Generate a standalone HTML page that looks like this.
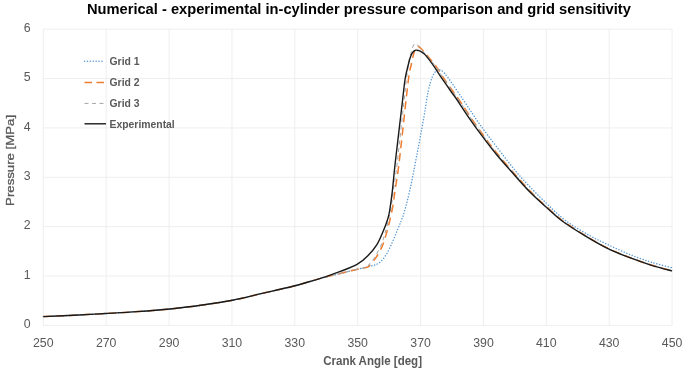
<!DOCTYPE html>
<html><head><meta charset="utf-8"><title>Chart</title>
<style>
html,body{margin:0;padding:0;background:#fff;}
svg{display:block;font-family:"Liberation Sans",sans-serif;}
</style></head><body>
<svg width="685" height="371" viewBox="0 0 685 371">
<rect width="685" height="371" fill="#fff"/>
<g stroke="#ececec" stroke-width="0.9" fill="none"><line x1="43.30" y1="29.2" x2="43.30" y2="325.4"/><line x1="106.18" y1="29.2" x2="106.18" y2="325.4"/><line x1="169.06" y1="29.2" x2="169.06" y2="325.4"/><line x1="231.94" y1="29.2" x2="231.94" y2="325.4"/><line x1="294.82" y1="29.2" x2="294.82" y2="325.4"/><line x1="357.70" y1="29.2" x2="357.70" y2="325.4"/><line x1="420.58" y1="29.2" x2="420.58" y2="325.4"/><line x1="483.46" y1="29.2" x2="483.46" y2="325.4"/><line x1="546.34" y1="29.2" x2="546.34" y2="325.4"/><line x1="609.22" y1="29.2" x2="609.22" y2="325.4"/><line x1="672.10" y1="29.2" x2="672.10" y2="325.4"/><line x1="43.3" y1="325.40" x2="672.1" y2="325.40"/><line x1="43.3" y1="276.03" x2="672.1" y2="276.03"/><line x1="43.3" y1="226.66" x2="672.1" y2="226.66"/><line x1="43.3" y1="177.29" x2="672.1" y2="177.29"/><line x1="43.3" y1="127.92" x2="672.1" y2="127.92"/><line x1="43.3" y1="78.55" x2="672.1" y2="78.55"/><line x1="43.3" y1="29.18" x2="672.1" y2="29.18"/></g>
<text x="358.9" y="14.3" text-anchor="middle" font-size="13.9" font-weight="bold" fill="#000" textLength="544" lengthAdjust="spacingAndGlyphs">Numerical - experimental in-cylinder pressure comparison and grid sensitivity</text>
<g font-size="12.3" fill="#595959"><text x="43.3" y="346.7" text-anchor="middle">250</text><text x="106.2" y="346.7" text-anchor="middle">270</text><text x="169.1" y="346.7" text-anchor="middle">290</text><text x="231.9" y="346.7" text-anchor="middle">310</text><text x="294.8" y="346.7" text-anchor="middle">330</text><text x="357.7" y="346.7" text-anchor="middle">350</text><text x="420.6" y="346.7" text-anchor="middle">370</text><text x="483.5" y="346.7" text-anchor="middle">390</text><text x="546.3" y="346.7" text-anchor="middle">410</text><text x="609.2" y="346.7" text-anchor="middle">430</text><text x="672.1" y="346.7" text-anchor="middle">450</text><text x="30.5" y="328.0" text-anchor="end">0</text><text x="30.5" y="278.6" text-anchor="end">1</text><text x="30.5" y="229.3" text-anchor="end">2</text><text x="30.5" y="179.9" text-anchor="end">3</text><text x="30.5" y="130.5" text-anchor="end">4</text><text x="30.5" y="81.1" text-anchor="end">5</text><text x="30.5" y="31.8" text-anchor="end">6</text></g>
<text x="372.6" y="365" text-anchor="middle" font-size="11.9" font-weight="bold" fill="#595959" textLength="98.8" lengthAdjust="spacingAndGlyphs">Crank Angle [deg]</text>
<text transform="translate(13.6,160.4) rotate(-90)" text-anchor="middle" font-size="11" fill="#595959" stroke="#595959" stroke-width="0.3" textLength="91" lengthAdjust="spacingAndGlyphs">Pressure [MPa]</text>
<g fill="none" stroke-linejoin="round">
<path d="M43.3 316.6C48.4 316.4 63.6 315.7 74.0 315.2C84.4 314.7 95.0 314.1 105.5 313.5C116.0 312.9 126.2 312.4 137.0 311.6C147.8 310.9 159.4 310.1 170.0 309.0C180.6 307.9 190.3 306.8 200.7 305.3C211.1 303.8 222.2 302.2 232.5 300.2C242.8 298.2 252.1 295.7 262.2 293.4C272.3 291.1 285.0 288.3 293.0 286.3C301.0 284.3 305.4 282.8 310.0 281.5C314.6 280.2 315.3 279.8 320.5 278.4C325.7 277.0 334.9 274.8 341.0 273.3C347.1 271.8 352.4 270.4 357.4 269.2C362.3 268.0 367.1 267.1 370.7 266.1C374.3 265.1 376.3 264.9 378.9 263.0C381.5 261.1 383.9 258.2 386.1 254.8C388.3 251.4 390.3 246.6 392.2 242.5C394.1 238.4 395.8 233.9 397.4 230.2C398.9 226.4 400.3 223.2 401.5 220.0C402.7 216.8 403.2 215.9 404.6 211.0C406.0 206.1 407.9 198.7 409.7 190.7C411.5 182.7 412.9 175.4 415.3 163.0C417.7 150.6 422.0 128.0 424.1 116.0C426.2 104.0 426.8 97.7 428.2 91.2C429.6 84.7 430.9 80.3 432.3 76.9C433.7 73.5 435.2 71.9 436.4 70.7C437.6 69.5 438.1 69.3 439.5 69.7C440.9 70.1 442.4 70.8 444.6 73.3C446.8 75.8 449.7 80.0 452.8 84.4C455.9 88.9 460.1 95.2 463.4 100.0C466.6 104.8 469.4 109.0 472.3 113.3C475.2 117.6 476.7 120.1 480.7 125.6C484.7 131.1 489.6 137.7 496.1 146.1C502.6 154.5 511.6 166.5 519.9 176.0C528.2 185.5 538.5 195.6 546.1 203.0C553.7 210.4 558.3 215.0 565.6 220.5C572.9 226.0 582.6 231.6 590.1 235.8C597.6 240.0 603.8 242.7 610.6 245.9C617.4 249.1 624.3 252.4 631.1 255.1C637.9 257.8 644.8 260.2 651.6 262.3C658.4 264.4 668.7 266.9 672.1 267.8" stroke="#5b9bd5" stroke-width="1.45" stroke-dasharray="0.1 2.8" stroke-linecap="round"/>
<path d="M43.3 316.6C48.4 316.4 63.6 315.7 74.0 315.2C84.4 314.7 95.0 314.1 105.5 313.5C116.0 312.9 126.2 312.4 137.0 311.6C147.8 310.9 159.4 310.1 170.0 309.0C180.6 307.9 190.3 306.8 200.7 305.3C211.1 303.8 222.2 302.2 232.5 300.2C242.8 298.2 252.1 295.7 262.2 293.4C272.3 291.1 285.0 288.3 293.0 286.3C301.0 284.3 305.4 282.8 310.0 281.5C314.6 280.2 315.3 279.8 320.5 278.4C325.7 277.0 334.9 274.8 341.0 273.3C347.1 271.8 353.0 270.2 357.4 269.2C361.8 268.2 365.3 268.1 367.6 267.1C369.9 266.2 369.6 265.0 371.0 263.5C372.4 262.0 374.0 260.7 375.8 257.9C377.6 255.1 380.3 250.4 382.0 246.6C383.7 242.8 384.8 238.9 386.0 235.0C387.2 231.1 388.1 227.5 389.2 223.0C390.3 218.5 391.5 213.4 392.5 208.0C393.5 202.6 393.9 198.4 395.0 190.7C396.1 183.0 397.2 178.8 399.2 162.0C401.2 145.2 405.4 105.1 407.2 90.0C408.9 74.9 409.1 75.2 409.7 71.2C410.3 67.2 410.5 68.3 411.0 66.0C411.5 63.7 412.1 59.9 412.8 57.2C413.5 54.5 414.2 51.5 415.0 49.7C415.8 47.9 416.5 46.5 417.5 46.3C418.5 46.1 419.5 47.1 420.8 48.3C422.1 49.4 423.3 51.0 425.2 53.2C427.1 55.4 430.2 59.1 432.3 61.7C434.4 64.3 436.0 66.2 437.7 68.6C439.4 71.0 440.0 72.6 442.5 76.3C445.0 80.0 449.9 87.0 452.7 91.0C455.5 95.0 456.1 95.5 459.2 100.0C462.2 104.5 466.8 111.6 471.0 117.8C475.2 124.0 480.0 130.7 484.5 136.9C489.1 143.2 493.2 148.8 498.6 155.3C503.9 161.9 511.2 169.9 516.7 176.2C522.3 182.4 526.7 187.7 531.8 192.8C536.8 198.0 541.9 202.5 547.0 207.1C552.1 211.7 555.7 215.6 562.4 220.5C569.0 225.4 579.0 231.7 586.8 236.4C594.6 241.1 601.7 245.3 609.2 248.9C616.6 252.5 624.5 255.5 631.7 258.2C638.8 260.9 645.3 263.2 652.1 265.3C658.8 267.4 668.8 269.8 672.1 270.7" stroke="#ed7d31" stroke-width="1.5" stroke-dasharray="8 5"/>
<path d="M43.3 316.6C48.4 316.4 63.6 315.7 74.0 315.2C84.4 314.7 95.0 314.1 105.5 313.5C116.0 312.9 126.2 312.4 137.0 311.6C147.8 310.9 159.4 310.1 170.0 309.0C180.6 307.9 190.3 306.8 200.7 305.3C211.1 303.8 222.2 302.2 232.5 300.2C242.8 298.2 252.1 295.7 262.2 293.4C272.3 291.1 285.0 288.3 293.0 286.3C301.0 284.3 305.4 282.8 310.0 281.5C314.6 280.2 315.3 279.8 320.5 278.4C325.7 277.0 334.9 274.8 341.0 273.3C347.1 271.8 353.1 270.2 357.4 269.2C361.6 268.2 364.5 268.2 366.5 267.3C368.5 266.4 368.2 265.4 369.5 263.8C370.8 262.2 372.5 260.8 374.3 257.9C376.1 255.0 378.8 250.4 380.5 246.6C382.2 242.8 383.3 238.9 384.5 235.0C385.7 231.1 386.6 227.5 387.7 223.0C388.8 218.5 390.1 213.4 391.0 208.0C391.9 202.6 392.3 198.2 393.3 190.7C394.3 183.2 395.2 179.8 397.2 163.0C399.2 146.2 403.5 105.3 405.2 90.0C406.9 74.7 406.9 76.0 407.5 71.2C408.1 66.4 408.4 64.3 409.0 61.0C409.6 57.7 410.7 54.0 411.4 51.5C412.1 49.0 412.5 47.3 413.1 46.0C413.7 44.7 414.3 43.9 415.0 43.6C415.7 43.3 416.5 43.9 417.2 44.4C417.9 44.9 418.5 45.8 419.3 46.8C420.1 47.8 421.0 49.4 422.0 50.5C423.0 51.6 423.5 51.8 425.2 53.7C426.9 55.7 430.2 59.7 432.3 62.2C434.4 64.8 436.1 66.7 437.7 69.0C439.3 71.3 439.7 72.6 442.1 76.3C444.5 80.0 449.5 87.0 452.3 91.0C455.1 95.0 455.8 95.5 458.8 100.0C461.9 104.5 466.4 111.6 470.6 117.8C474.8 124.0 479.6 130.7 484.2 136.9C488.8 143.2 492.9 148.8 498.3 155.3C503.6 161.9 510.9 169.9 516.5 176.2C522.0 182.4 526.5 187.7 531.6 192.8C536.6 198.0 541.7 202.5 546.9 207.1C552.0 211.7 555.6 215.6 562.2 220.5C568.8 225.4 578.8 231.7 586.6 236.4C594.4 241.1 601.5 245.3 609.0 248.9C616.5 252.5 624.4 255.5 631.6 258.2C638.7 260.9 645.2 263.2 652.0 265.3C658.7 267.4 668.7 269.9 672.1 270.8" stroke="#a5a5a5" stroke-width="1" stroke-dasharray="4 3.5"/>
<path d="M43.3 316.6C48.4 316.4 63.6 315.7 74.0 315.2C84.4 314.7 95.0 314.1 105.5 313.5C116.0 312.9 126.2 312.4 137.0 311.6C147.8 310.9 159.4 310.1 170.0 309.0C180.6 307.9 190.3 306.8 200.7 305.3C211.1 303.8 222.2 302.2 232.5 300.2C242.8 298.2 252.1 295.7 262.2 293.4C272.3 291.1 285.0 288.3 293.0 286.3C301.0 284.3 305.4 282.8 310.0 281.5C314.6 280.2 315.3 280.1 320.5 278.4C325.7 276.7 334.9 273.6 341.0 271.2C347.1 268.8 353.0 266.7 357.4 264.1C361.8 261.6 364.4 259.2 367.6 255.9C370.9 252.7 374.2 248.9 376.9 244.6C379.6 240.3 381.9 234.3 383.6 230.2C385.4 226.1 386.4 223.2 387.4 220.0C388.4 216.8 388.8 215.9 389.6 211.0C390.4 206.1 391.5 198.7 392.4 190.7C393.3 182.7 393.5 178.1 395.2 163.0C396.9 147.9 401.0 114.0 402.6 100.0C404.2 86.0 404.2 84.8 405.1 79.0C406.0 73.2 407.3 68.7 408.2 65.0C409.1 61.3 409.8 58.7 410.6 56.6C411.4 54.5 411.9 53.4 412.8 52.3C413.7 51.2 414.8 50.5 415.8 50.2C416.8 49.9 417.8 50.4 418.8 50.7C419.8 51.0 420.7 51.5 421.8 52.2C422.9 52.9 423.6 52.9 425.5 55.1C427.4 57.3 431.0 62.1 433.5 65.6C436.0 69.1 437.6 72.1 440.5 76.3C443.4 80.5 447.9 87.0 450.7 91.0C453.5 95.0 454.1 95.5 457.2 100.0C460.2 104.5 464.7 111.6 469.0 117.8C473.3 124.0 478.1 130.7 482.8 136.9C487.5 143.2 491.7 148.8 497.1 155.3C502.6 161.9 509.9 169.9 515.5 176.2C521.1 182.4 525.6 187.7 530.7 192.8C535.8 198.0 541.0 202.5 546.1 207.1C551.2 211.7 554.9 215.6 561.5 220.5C568.1 225.4 578.2 231.7 586.0 236.4C593.8 241.1 601.0 245.3 608.5 248.9C616.0 252.5 623.9 255.5 631.1 258.2C638.3 260.9 644.8 263.2 651.6 265.3C658.4 267.4 668.7 270.0 672.1 270.9" stroke="#1a1a1a" stroke-width="1.4"/>
</g>
<g fill="none">
<line x1="84.5" y1="61.3" x2="104" y2="61.3" stroke="#5b9bd5" stroke-width="1.45" stroke-dasharray="0.1 2.8" stroke-linecap="round"/>
<line x1="84.5" y1="82.4" x2="104" y2="82.4" stroke="#ed7d31" stroke-width="1.5" stroke-dasharray="7.5 4.5"/>
<line x1="84.5" y1="103.4" x2="104" y2="103.4" stroke="#a5a5a5" stroke-width="1" stroke-dasharray="4 3.5"/>
<line x1="84.5" y1="123.8" x2="106" y2="123.8" stroke="#1a1a1a" stroke-width="1.4"/>
</g>
<g font-size="10.4" font-weight="bold" fill="#595959">
<text x="109.5" y="65">Grid 1</text>
<text x="109.5" y="86">Grid 2</text>
<text x="109.5" y="107">Grid 3</text>
<text x="109.5" y="127.7">Experimental</text>
</g>
</svg>
</body></html>
